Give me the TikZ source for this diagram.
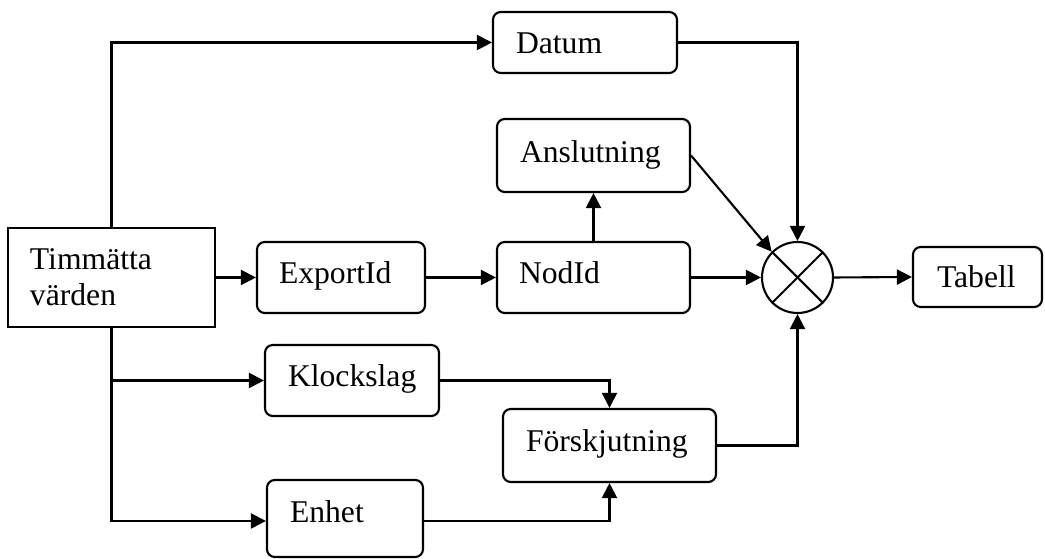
\documentclass[tikz,border=0pt]{standalone}
\usepackage{fontspec}
\setmainfont{Liberation Serif}
\usetikzlibrary{arrows.meta,calc}
\begin{document}
\begin{tikzpicture}[x=0.01cm,y=-0.01cm,
  every node/.style={font=\fontsize{9pt}{10.3pt}\selectfont},
  blk/.style={draw, line width=0.6pt, rounded corners=2.2pt, align=left, inner ysep=0pt, text height=6pt},
  sq/.style={draw, line width=0.6pt, align=left, inner ysep=0pt},
  conn/.style={line width=0.6pt, -{Triangle[length=4.3pt,width=4.3pt]}},
  ln/.style={line width=0.6pt}]
\useasboundingbox (0,0) rectangle (1045,559);

\node[sq, minimum height=99*0.01cm, text width=163*0.01cm, inner xsep=22*0.01cm] (timm) at (111.5,277.5) {Timmätta\\värden};
\node[blk, minimum height=61*0.01cm, text width=138*0.01cm, inner xsep=23*0.01cm, text depth=0pt] (datum) at (585,42.5) {Datum};
\node[blk, minimum height=73*0.01cm, text width=147*0.01cm, inner xsep=23*0.01cm, text depth=1.73pt] (ansl) at (593.5,155.5) {Anslutning};
\node[blk, minimum height=71*0.01cm, text width=149*0.01cm, inner xsep=22*0.01cm, text depth=2.6pt] (nod) at (593.5,277.5) {NodId};
\node[blk, minimum height=71*0.01cm, text width=124*0.01cm, inner xsep=22*0.01cm, text depth=2.3pt] (exp) at (341,277.5) {ExportId};
\node[blk, minimum height=60*0.01cm, text width=81*0.01cm, inner xsep=24*0.01cm, text depth=0.3pt] (tab) at (977.5,277) {Tabell};
\node[blk, minimum height=71*0.01cm, text width=128*0.01cm, inner xsep=23*0.01cm, text depth=2.3pt] (klock) at (352,380.5) {Klockslag};
\node[blk, minimum height=73*0.01cm, text width=167*0.01cm, inner xsep=23*0.01cm, text depth=2.3pt] (forsk) at (609.5,445.5) {Förskjutning};
\node[blk, minimum height=77*0.01cm, text width=110*0.01cm, inner xsep=23*0.01cm, text depth=4pt] (enh) at (345,518.5) {Enhet};
\node[draw, circle, line width=0.6pt, minimum size=71*0.01cm, inner sep=0pt] (circ) at (797.5,277.5) {};
\draw[ln] (circ.north west) -- (circ.south east);
\draw[ln] (circ.north east) -- (circ.south west);

\coordinate (enhin) at ($(enh.west)+(0,2.5)$);

\draw[conn] (timm.north) |- (datum.west);
\draw[conn] (timm.east |- exp.west) -- (exp.west);
\draw[conn] (exp.east) -- (nod.west);
\draw[conn] (nod.north) -- (ansl.south);
\draw[conn] (ansl.east) -- (circ.north west);
\draw[conn] (datum.east) -| (circ.north);
\draw[conn] (nod.east) -- (circ.west);
\draw[conn] (circ.east) -- (tab.west);
\draw[conn] (forsk.east) -| (circ.south);
\draw[conn] (timm.south) |- (klock.west);
\draw[conn] (timm.south) |- (enhin);
\draw[conn] (klock.east) -| (forsk.north);
\draw[conn] (enh.east |- enhin) -| (forsk.south);
\end{tikzpicture}
\end{document}
